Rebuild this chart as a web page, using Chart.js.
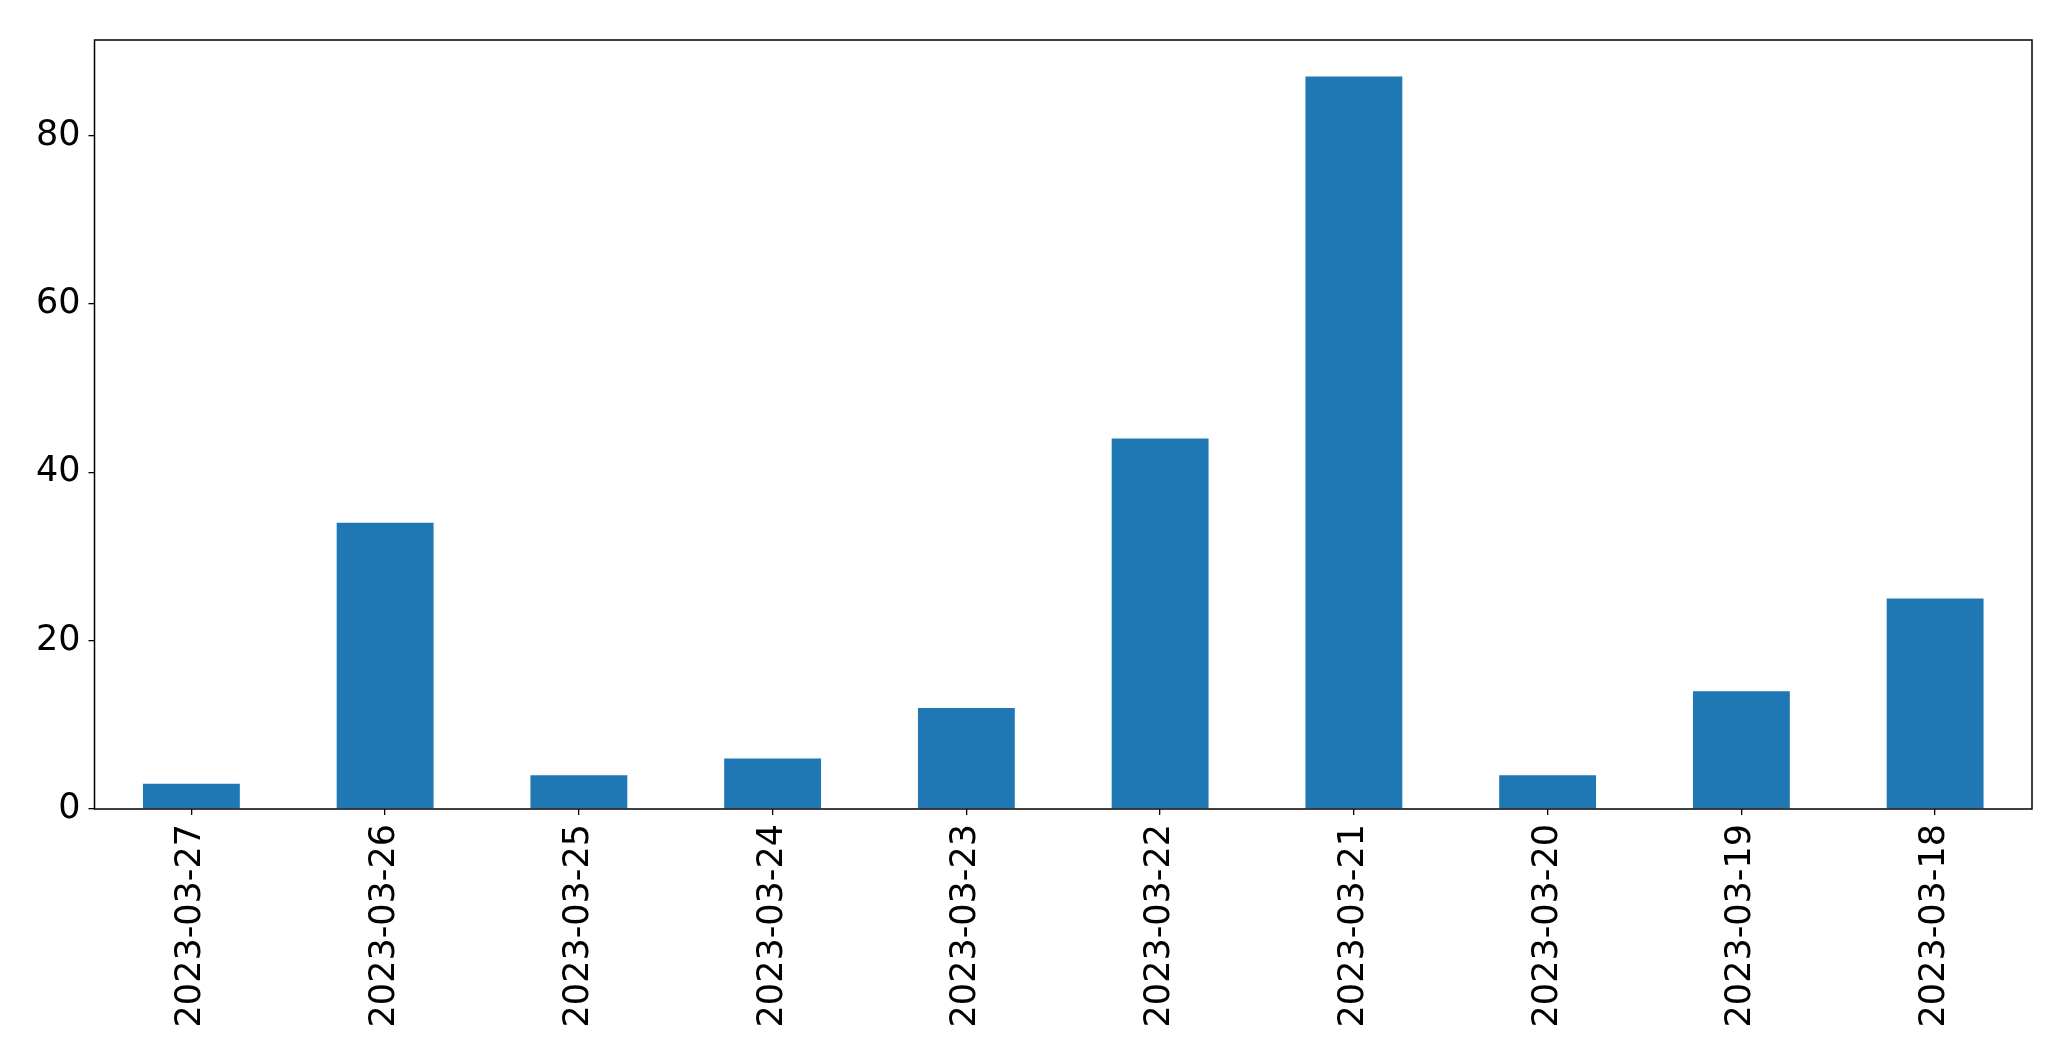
<!DOCTYPE html>
<html>
<head>
<meta charset="utf-8">
<script src="https://cdn.jsdelivr.net/npm/chart.js@4.4.1/dist/chart.umd.min.js"></script>
<style>
  html, body { margin: 0; padding: 0; background: #fff; }
  #grafico { display: block; }
</style>
</head>
<body>
<canvas id="grafico" width="2071" height="1061"></canvas>
<script>
// Datos del gráfico
const fechas = ['2023-03-27', '2023-03-26', '2023-03-25', '2023-03-24', '2023-03-23',
                '2023-03-22', '2023-03-21', '2023-03-20', '2023-03-19', '2023-03-18'];
const cantidades = [3, 34, 4, 6, 12, 44, 87, 4, 14, 25];
const ticksY = [0, 20, 40, 60, 80];

const FUENTE = "'DejaVu Sans', sans-serif";

// Marco completo alrededor del área del gráfico (como matplotlib)
const marco = {
    id: 'marco',
    afterDraw(chart) {
        const { ctx, chartArea: a } = chart;
        ctx.save();
        ctx.strokeStyle = '#000';
        ctx.lineWidth = 1.5;
        ctx.strokeRect(a.left, a.top, a.right - a.left, a.bottom - a.top);
        ctx.restore();
    }
};

new Chart(document.getElementById('grafico'), {
    type: 'bar',
    data: {
        labels: fechas,
        datasets: [{
            data: cantidades,
            backgroundColor: '#1f77b4',
            barPercentage: 0.5,
            categoryPercentage: 1.0
        }]
    },
    options: {
        responsive: false,
        animation: false,
        layout: { padding: { top: 40, right: 39, left: 0, bottom: 0 } },
        plugins: {
            legend: { display: false },
            tooltip: { enabled: false }
        },
        scales: {
            x: {
                offset: true,
                grid: { display: true, drawOnChartArea: false, drawTicks: true, tickLength: 6, color: '#000', lineWidth: 1.3, offset: false },
                border: { display: false },
                ticks: {
                    color: '#000',
                    font: { family: FUENTE, size: 35 },
                    minRotation: 90,
                    maxRotation: 90,
                    autoSkip: false,
                    padding: 9
                },
                afterFit(scale) { scale.height = 252; }
            },
            y: {
                min: 0,
                max: 91.35,
                grid: { display: true, drawOnChartArea: false, drawTicks: true, tickLength: 6, color: '#000', lineWidth: 1.3 },
                border: { display: false },
                ticks: {
                    color: '#000',
                    font: { family: FUENTE, size: 35 },
                    padding: 8
                },
                afterBuildTicks(scale) {
                    scale.ticks = ticksY.map(v => ({ value: v }));
                },
                afterFit(scale) { scale.width = 94.5; }
            }
        }
    },
    plugins: [marco]
});
</script>
</body>
</html>
